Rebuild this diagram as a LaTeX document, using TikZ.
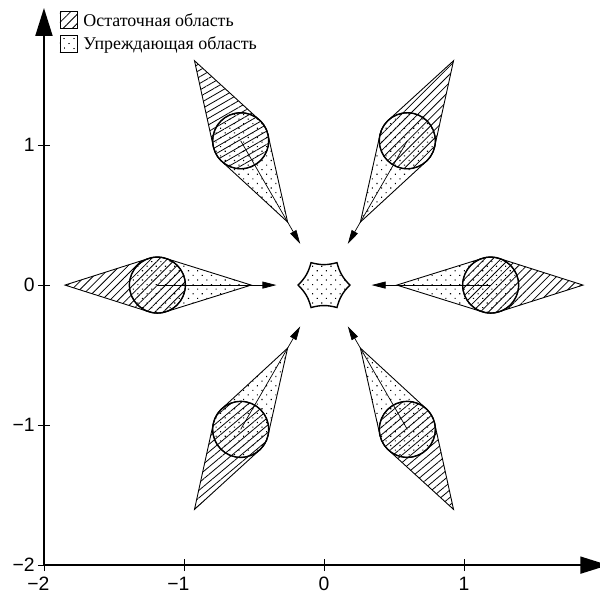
\documentclass[tikz,border=0pt]{standalone}
\usepackage{fontspec}
\setmainfont{Liberation Serif}
\newfontfamily\axfont{Liberation Sans}
\usetikzlibrary{patterns.meta,arrows.meta,calc}
\begin{document}
\begin{tikzpicture}[x=2.8cm,y=2.8cm,
  axisline/.style={line width=1.1pt},
  tickline/.style={line width=0.5pt},
  ticklabel/.style={font=\axfont\fontsize{11pt}{13pt}\selectfont, inner sep=0pt},
  hatchfill/.style={pattern={Lines[angle=#1,distance=0.115cm,line width=0.45pt]}},
  dotfill/.style={pattern={Dots[angle=45,distance=0.13cm,radius=0.45pt]}},
  hull/.style={line width=0.5pt},
  agentcircle/.style={line width=0.8pt},
  centerregion/.style={line width=0.8pt},
  velocity/.style={line width=0.4pt,-{Triangle[length=0.28cm,width=0.14cm]}},
  legendbox/.style={draw,line width=0.5pt,minimum size=0.34cm,inner sep=0pt},
  legendtext/.style={anchor=west,font=\fontsize{10.2pt}{12pt}\selectfont,inner sep=0pt}
]
\useasboundingbox (-2.314,-2.229) rectangle (1.971,2.036);

% axes
\coordinate (O) at (-2,-2);
\coordinate (xend) at (2.03,-2);
\coordinate (yend) at (-2,1.979);
\draw[axisline,-{Triangle[length=0.56cm,width=0.34cm]}] (O) -- (xend);
\draw[axisline,-{Triangle[length=0.56cm,width=0.34cm]}] (O) -- (yend);
\foreach \v/\lab in {-2/\llap{−}2,-1/\llap{−}1,0/0,1/1} {
  \draw[tickline] (\v,-2.043) -- (\v,-1.957);
  \draw[tickline] (-2.043,\v) -- (-1.957,\v);
  \node[ticklabel] (xl\v) at (\v,-2.136) {\lab};
  \node[ticklabel,anchor=east] (yl\v) at (-2.064,\v) {\ifnum\v<0 −\fi\ifnum\v<0 \the\numexpr-\v\relax\else\v\fi};
}

% agents
\foreach \agang/\hatchang [count=\i] in {0/45,60/45,120/30,180/45,240/40,300/40} {
  \coordinate (c\i) at (\agang:1.19);
  \coordinate (out\i) at (\agang:1.85);
  \coordinate (in\i) at (\agang:0.52);
  \coordinate (v\i) at (\agang:0.34);
  \draw[hull,hatchfill=\hatchang] ($(c\i)+(\agang+72.5:0.2)$) -- (out\i)
     -- ($(c\i)+(\agang-72.5:0.2)$) arc[start angle=\agang-72.5, end angle=\agang-287.5, radius=0.2] -- cycle;
  \draw[hull,dotfill] ($(c\i)+(\agang+252.5:0.2)$) -- (in\i)
     -- ($(c\i)+(\agang+107.5:0.2)$) arc[start angle=\agang+107.5, end angle=\agang-107.5, radius=0.2] -- cycle;
  \draw[agentcircle] (c\i) circle[radius=0.2];
  \draw[velocity] (c\i) -- (v\i);
}

% central region
\foreach \k in {0,...,5} { \coordinate (h\k) at (60*\k:0.185); }
\draw[centerregion,dotfill] (h0) to[bend left=15] (h1) to[bend left=15] (h2) to[bend left=15] (h3)
   to[bend left=15] (h4) to[bend left=15] (h5) to[bend left=15] (h0) -- cycle;

% legend
\node[legendbox,pattern={Lines[angle=45,distance=0.13cm,line width=0.45pt]}] (lb1) at (-1.825,1.893) {};
\node[legendtext] (lt1) at (-1.721,1.889) {Остаточная область};
\node[legendbox,pattern={Dots[angle=45,distance=0.14cm,radius=0.4pt]}] (lb2) at (-1.825,1.721) {};
\node[legendtext] (lt2) at (-1.721,1.717) {Упреждающая область};
\end{tikzpicture}
\end{document}
